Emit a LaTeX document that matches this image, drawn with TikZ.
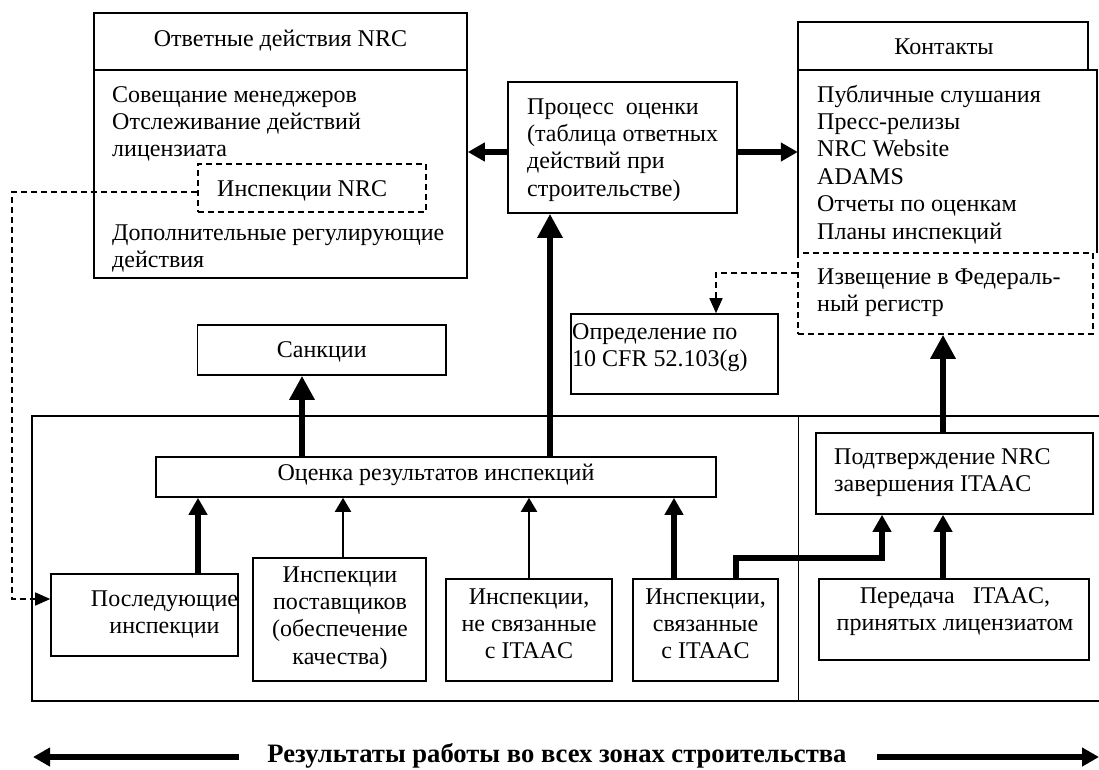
\documentclass[tikz,border=0pt]{standalone}
\usepackage{fontspec}
\setmainfont{Liberation Serif}
\usetikzlibrary{arrows.meta,fit}
\newcommand\fsz{\fontsize{24}{27.4}\selectfont}
\newcommand\fbig{\fontsize{26.6}{30}\selectfont}
\begin{document}
\begin{tikzpicture}[x=1pt,y=-1pt,
  box/.style={draw, line width=1.6pt, inner sep=0pt},
  dbox/.style={draw, line width=1.5pt, dash pattern=on 6pt off 4pt, inner sep=0pt},
  hold/.style={inner sep=0pt},
  txt/.style={inner sep=0pt, font=\fsz, align=left, anchor=north west},
  ctxt/.style={inner sep=0pt, font=\fsz, align=center, anchor=north},
  bigarr/.style={line width=6.5pt, -{Triangle[width=24pt,length=24pt]}},
  medarr/.style={line width=6pt, line join=miter, -{Triangle[width=18pt,length=17pt]}},
  tarr/.style={line width=2pt, -{Triangle[width=16pt,length=14pt]}},
  dline/.style={line width=1.5pt, dash pattern=on 6pt off 4pt},
  darr/.style={dline, -{Triangle[width=13pt,length=15pt]}},
  frame/.style={line width=1.6pt}]
\useasboundingbox (0,0) rectangle (1099,769);

% ---------- left box: NRC responses
\node[box, fit={(94,13) (467,70)}] (lbh) {};
\node[box, fit={(94,70) (467,278)}] (lbb) {};
\node[ctxt] (lbht) at (280.5,26.8) {\strut Ответные действия NRC};
\node[txt] (lbt1) at (112,82.8) {\strut Совещание менеджеров\\Отслеживание действий\\лицензиата};
\node[dbox, fit={(198,164) (426,212)}] (insp) {};
\node[txt] (inspt) at (217,176.8) {\strut Инспекции NRC};
\node[txt] (lbt2) at (112,220.8) {\strut Дополнительные регулирующие\\действия};

% ---------- process box
\node[box, fit={(508,82) (737,213)}] (proc) {};
\node[txt] (proct) at (527,94.8) {\strut Процесс\ \ оценки\\(таблица ответных\\действий при\\строительстве)};

% ---------- contacts
\node[box, fit={(798,22) (1088,70)}] (ch) {};
\node[ctxt] (cht) at (944,34.8) {\strut Контакты};
\node[hold, fit={(798,70) (1097,253)}] (cb) {};
\draw[frame] (cb.south west) -- (cb.north west) -- (cb.north east) -- (cb.south east);
\node[txt] (cbt) at (817,82.8) {\strut Публичные слушания\\Пресс-релизы\\NRC Website\\ADAMS\\Отчеты по оценкам\\Планы инспекций};
\node[dbox, fit={(798,253) (1093,334)}] (izv) {};
\node[txt] (izvt) at (817,264.8) {\strut Извещение в Федераль-\\ный регистр};

% ---------- determination
\node[box, fit={(571,314) (778,394)}] (opr) {};
\node[txt] (oprt) at (572,319.8) {\strut Определение по\\10 CFR 52.103(g)};

% ---------- sanctions
\node[box, fit={(197.5,325) (446,375)}] (sank) {};
\node[ctxt] (sankt) at (321.75,337.8) {\strut Санкции};

% ---------- frame
\draw[frame] (1099,416) -- (32,416) -- (32,701) -- (1099,701);
\draw[line width=0.8pt] (798,416) -- (798,701);

% ---------- assessment
\node[box, fit={(156,457) (716,497)}] (ocen) {};
\node[ctxt] (ocent) at (436,460.8) {\strut Оценка результатов инспекций};

% ---------- inspections
\node[box, fit={(51,574) (238,656)}] (posl) {};
\node[ctxt] (poslt) at (164.5,586.8) {\strut Последующие\\инспекции};
\node[box, fit={(253,558) (426,681)}] (post) {};
\node[ctxt] (postt) at (340,562.8) {\strut Инспекции\\поставщиков\\(обеспечение\\качества)};
\node[box, fit={(446,579) (612,681)}] (nesv) {};
\node[ctxt] (nesvt) at (529,584.8) {\strut Инспекции,\\не связанные\\с ITAAC};
\node[box, fit={(633,579) (778,681)}] (svy) {};
\node[ctxt] (svyt) at (705.5,584.8) {\strut Инспекции,\\связанные\\с ITAAC};

% ---------- ITAAC confirmation
\node[box, fit={(816,433) (1093,514)}] (podt) {};
\node[txt] (podtt) at (834,444.8) {\strut Подтверждение NRC\\завершения ITAAC};
\node[box, fit={(819,579) (1089,660)}] (pered) {};
\node[ctxt] (peredt) at (955,583.8) {\strut Передача\hspace{18pt}ITAAC,\\принятых лицензиатом};

% ---------- connectors
\draw[medarr] ([yshift=-4.5pt]proc.west) -- ([yshift=-4.5pt]proc.west -| lbb.east);
\draw[medarr] ([yshift=-4.5pt]proc.east) -- ([yshift=-4.5pt]proc.east -| cb.west);
\draw[bigarr] ([xshift=114pt]ocen.north) -- ([xshift=114pt]ocen.north |- proc.south);
\draw[bigarr] ([xshift=-134pt]ocen.north) -- ([xshift=-134pt]ocen.north |- sank.south);
\draw[medarr] ([xshift=53.5pt]posl.north) -- ([xshift=53.5pt]posl.north |- ocen.south);
\draw[tarr] ([xshift=3.5pt]post.north) -- ([xshift=3.5pt]post.north |- ocen.south);
\draw[tarr] (nesv.north) -- (nesv.north |- ocen.south);
\draw[medarr] ([xshift=-31.5pt]svy.north) -- ([xshift=-31.5pt]svy.north |- ocen.south);
\coordinate (e1) at (882,558);
\draw[medarr] ([xshift=30.5pt]svy.north) |- (e1) -- (e1 |- podt.south);
\draw[medarr] ([xshift=-11pt]pered.north) -- ([xshift=-11pt]pered.north |- podt.south);
\draw[bigarr] ([xshift=-11.5pt]podt.north) -- ([xshift=-11.5pt]podt.north |- izv.south);

% dashed connectors
\coordinate (d1) at (12,192);
\coordinate (d2) at (12,599);
\draw[darr] (d1 -| insp.west) -- (d1) -- (d2) -- (d2 -| posl.west);
\coordinate (d3) at (716,273);
\draw[darr] (d3 -| izv.west) -- (d3) -- (d3 |- opr.north);

% ---------- bottom line
\node[inner sep=0pt, font=\fbig\bfseries, anchor=base] (res) at (557,762) {Результаты работы во всех зонах строительства};
\coordinate (ls) at (239,757);
\coordinate (le) at (33,757);
\coordinate (rs) at (877,757);
\coordinate (re) at (1099,757);
\draw[medarr] (ls) -- (le);
\draw[medarr] (rs) -- (re);
\end{tikzpicture}
\end{document}
